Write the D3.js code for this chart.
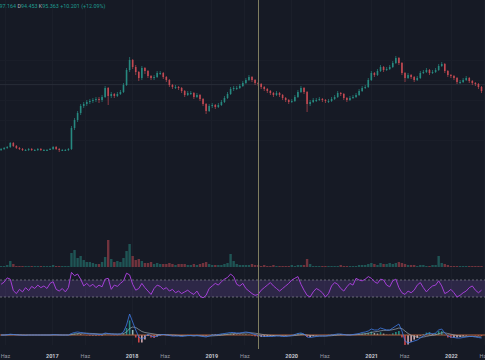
<!DOCTYPE html>
<html>
<head>
<meta charset="utf-8">
<script src="https://cdn.jsdelivr.net/npm/d3@7"></script>
<style>
  html, body { margin: 0; padding: 0; background: #161a25; overflow: hidden; }
  svg { display: block; }
</style>
</head>
<body>
<div id="chart"></div>
<script>
(function () {
  'use strict';

  // two-week candles, starting 2016-05-14
  var closes = [31,32,33,37,34,32,31,30,30,31, 30,30,31,30,30,30,31,33,31,30,
    30,30,31,52,60,67,74,76,78,79, 80,81,80,83,92,84,86,84,86,88,
    95,110,120,113,108,102,112,109,104,102, 103,107,107,103,100,95,93,93,92,89,
    85,87,87,83,85,81,76,69,74,75, 73,75,78,82,86,91,92,92,94,97,
    100,103,100,97,96,93,91,89,87,85, 87,85,82,80,78,79,83,88,92,88,
    76,78,80,80,81,80,79,79,81,83, 87,86,82,80,82,83,85,89,92,93,
    100,107,105,109,113,110,111,113,117,122, 117,107,102,105,103,100,102,107,108,110,
    107,108,110,114,116,109,105,104,102,98, 98,100,102,99,97,96,93,89];
  var highs = [32,33,34,38,38,35,33,32,31,32, 32,31,32,32,31,31,32,34,34,32,
    31,31,32,54,62,69,76,78,80,81, 82,83,83,85,94,93,88,87,88,90,
    97,112,123,121,115,109,114,113,110,105, 105,109,109,108,104,101,96,95,94,93,
    90,89,89,88,87,86,82,77,76,77, 76,77,80,84,88,93,94,94,96,99,
    102,105,104,101,98,97,94,92,90,88, 89,88,86,83,81,81,85,90,94,93,
    89,80,82,82,83,82,81,81,83,85, 89,88,87,83,84,85,87,91,94,95,
    102,109,108,111,115,114,113,115,119,124, 123,118,108,107,106,104,104,109,110,112,
    111,110,112,116,118,117,110,106,105,103, 100,102,104,103,100,98,97,94];
  var lows = [29,30,31,32,33,31,30,29,29,29, 29,29,29,29,29,29,30,30,30,28,
    29,29,29,30,50,58,65,72,74,76, 77,78,77,78,82,75,82,82,83,85,
    87,94,108,111,105,99,100,106,102,100, 100,102,105,101,98,93,91,91,90,87,
    83,84,85,81,82,79,74,66,68,72, 71,72,74,77,81,85,89,90,91,93,
    96,99,98,95,94,91,89,87,85,83, 84,83,80,78,76,77,78,82,87,86,
    68,74,77,78,79,78,77,77,78,80, 82,84,80,78,79,81,82,84,88,91,
    92,99,103,104,108,108,109,110,112,116, 115,105,98,101,101,98,99,101,106,107,
    105,106,107,109,113,107,103,102,100,96, 96,97,99,97,95,94,91,87];
  var firstOpen = 30;
  var volumes = [1,1,2,6,3,1,1,1,1,1, 1,1,1,1,1,1,1,2,1,1,
    1,1,1,14,17,9,11,7,5,5, 4,3,3,5,10,27,8,5,6,5,
    9,16,23,11,7,8,6,4,4,5, 3,4,3,3,3,4,3,2,3,3,
    3,2,2,3,2,3,4,5,3,2, 2,2,2,3,4,13,6,3,2,2,
    2,2,3,2,2,1,2,1,1,2, 1,1,1,1,1,2,1,2,2,2,
    8,3,1,1,1,1,1,1,1,1, 1,2,1,1,1,1,1,2,2,2,
    3,4,3,2,4,3,3,4,3,4, 5,4,3,2,2,2,1,2,2,1,
    1,2,2,11,4,3,2,1,1,1, 1,1,1,1,1,1,1,1];
  var rsi = [60,65,75,72,45,38,48,42,52,45, 55,50,58,52,56,50,62,66,48,44,
    50,42,52,88,80,84,72,56,62,55, 60,52,58,54,72,74,48,58,55,62,
    68,86,82,60,46,50,62,52,44,36, 50,58,55,48,52,44,48,40,44,38,
    42,46,40,36,44,32,28,34,50,56, 62,58,66,72,76,84,78,60,56,62,
    50,44,38,34,36,46,52,58,64,56, 50,44,50,56,62,70,74,78,60,46,
    34,30,42,50,46,40,30,38,56,64, 60,50,44,54,62,58,74,70,68,72,
    78,74,66,62,72,70,58,54,68,72, 52,40,36,44,40,46,58,64,52,42,
    50,56,58,68,56,38,42,48,40,30, 34,40,44,52,56,46,40,46];
  var macd = [0,0,0.3,0.8,0.5,0.2,0,-0.2,-0.2,0, 0,0,0,0,0,0,0,0.3,0.2,0,
    0,0,0,1.5,2.5,3,2.5,2,1.5,1, 1,0.8,0.5,0.5,2,1.5,1,0.8,0.8,1,
    3,10,21,13,5,-2,-4,-2,1,-1, -2,-1,0,0.5,0,-0.5,-1,-1,-1,-1.5,
    -1,-0.5,-0.5,-1,-0.5,-1,-1.5,-2,-1,0, 0,0.5,1,1.5,2,2.5,2.5,2,2,2.5,
    3,2.5,1.5,0.5,-0.5,-1,-1.5,-1.5,-1.5,-1.5, -1,-1,-1.5,-1.5,-1,-0.5,0.5,1.5,2,1,
    -2,-2.5,-2,-1.5,-1,-1,-1,-0.5,0,0.5, 1,1,0.5,0,0,0.5,1,1.5,2.5,3,
    4,6,5,5,7,6,5,5,7,9, 11,4,-6,-8,-7,-6,-5,-3,-1,1,
    2,1,2,5,6,2,-1,-2,-2.5,-3, -3,-2.5,-2,-1.5,-1.5,-2,-2.5,-3];
  var signal = [0,0,0.1,0.3,0.4,0.3,0.2,0.1,0,0, 0,0,0,0,0,0,0,0.1,0.1,0.1,
    0,0,0,0.4,0.9,1.4,1.7,1.8,1.8,1.6, 1.5,1.3,1.1,1,1.2,1.3,1.2,1.1,1,1,
    1.4,3,6.5,8,7.5,5.5,3.5,2.5,2,1.5, 1,0.5,0.5,0.5,0.3,0.2,0,-0.2,-0.4,-0.6,
    -0.7,-0.7,-0.6,-0.7,-0.7,-0.7,-0.9,-1.1,-1.1,-0.9, -0.7,-0.5,-0.2,0.2,0.6,1,1.3,1.5,1.6,1.8,
    2,2.2,2.1,1.8,1.3,0.8,0.3,0,-0.3,-0.5, -0.6,-0.7,-0.8,-0.9,-0.9,-0.8,-0.5,-0.1,0.3,0.5,
    0,-0.5,-0.8,-1,-1,-1,-1,-0.9,-0.7,-0.4, -0.1,0.1,0.2,0.2,0.1,0.2,0.3,0.6,0.9,1.3,
    1.8,2.6,3.1,3.5,4.2,4.6,4.7,4.8,5.3,6, 7,6.4,3.9,1.5,-0.2,-1.4,-2.1,-2.3,-2,-1.4,
    -0.7,-0.3,0.2,1.2,2.2,2.2,1.5,0.8,0.1,-0.5, -1,-1.3,-1.4,-1.4,-1.4,-1.5,-1.7,-2];

  var tickDates = ['2016-06-01', '2017-01-01', '2017-06-01', '2018-01-01', '2018-06-01', '2019-01-01',
    '2019-06-01', '2020-01-01', '2020-06-01', '2021-01-01', '2021-06-01', '2022-01-01', '2022-06-01'];
  var headerKeys = ['', ' D', ' K', ' '];
  var headerValues = ['97.164', '94.453', '95.363', '+10.201 (+12.09%)'];
  var crossIndex = 84;
  var crossPrice = 95.363;

  var width = 485;
  var height = 360;
  var upColor = '#2a9d90';
  var downColor = '#e0525a';
  var start = new Date(2016, 4, 14);

  var bars = closes.map(function (c, i) {
    return {
      date: d3.timeDay.offset(start, i * 14),
      open: i ? closes[i - 1] : firstOpen, // each candle opens at the previous close
      high: highs[i],
      low: lows[i],
      close: c,
      volume: volumes[i],
      rsi: rsi[i],
      macd: macd[i],
      signal: signal[i],
      hist: macd[i] - signal[i]
    };
  });

  var x = d3.scaleTime().domain([new Date(2016, 4, 9), new Date(2022, 5, 6)]).range([0, width]);
  var y = d3.scaleLinear().domain([30, 125]).range([150, 55]);
  var yVol = d3.scaleLinear().domain([0, 30]).range([267, 237]);
  var yRsi = d3.scaleLinear().domain([30, 70]).range([297, 280]);
  var yMacd = d3.scaleLinear().domain([-10, 35]).range([345, 300]);

  var svg = d3.select('#chart').append('svg').attr('width', width).attr('height', height)
    .style('font-family', 'Roboto, "Noto Sans", sans-serif');
  svg.append('rect').attr('width', width).attr('height', height).attr('fill', '#161a25');

  var defs = svg.append('defs');
  defs.append('clipPath').attr('id', 'clip-main').append('rect').attr('width', width).attr('height', 270);
  defs.append('clipPath').attr('id', 'clip-rsi').append('rect').attr('y', 270).attr('width', width).attr('height', 30);
  defs.append('clipPath').attr('id', 'clip-macd').append('rect').attr('y', 300).attr('width', width).attr('height', 45);

  // grid (very faint)
  var ticks = tickDates.map(function (d) { return d3.timeParse('%Y-%m-%d')(d); });
  svg.append('g').attr('stroke', '#1b1f2a').attr('stroke-width', 1).selectAll('line').data(ticks).join('line')
    .attr('x1', function (d) { return Math.round(x(d)) + 0.5; })
    .attr('x2', function (d) { return Math.round(x(d)) + 0.5; })
    .attr('y1', 0).attr('y2', 345);
  svg.append('g').attr('stroke', '#1a1e29').selectAll('line').data([40, 60, 80, 100, 120]).join('line')
    .attr('x1', 0).attr('x2', width)
    .attr('y1', function (d) { return Math.round(y(d)) + 0.5; })
    .attr('y2', function (d) { return Math.round(y(d)) + 0.5; });

  // volume
  var isUp = function (d) { return d.close >= d.open; };
  svg.append('g').attr('clip-path', 'url(#clip-main)').attr('fill-opacity', 0.45).selectAll('rect').data(bars).join('rect')
    .attr('x', function (d) { return x(d.date) - 1.2; })
    .attr('width', 2.4)
    .attr('y', function (d) { return yVol(d.volume); })
    .attr('height', function (d) { return yVol(0) - yVol(d.volume); })
    .attr('fill', function (d) { return isUp(d) ? upColor : downColor; });

  // crosshair horizontal
  svg.append('line').attr('x1', 0).attr('x2', width)
    .attr('y1', y(crossPrice)).attr('y2', y(crossPrice))
    .attr('stroke', '#292d38').attr('stroke-width', 1);

  // candles
  var candle = svg.append('g').attr('clip-path', 'url(#clip-main)').attr('opacity', 0.85)
    .selectAll('g').data(bars).join('g')
    .attr('fill', function (d) { return isUp(d) ? upColor : downColor; })
    .attr('stroke', function (d) { return isUp(d) ? upColor : downColor; });
  candle.append('line')
    .attr('x1', function (d) { return x(d.date); })
    .attr('x2', function (d) { return x(d.date); })
    .attr('y1', function (d) { return y(d.high); })
    .attr('y2', function (d) { return y(d.low); })
    .attr('stroke-width', 0.7);
  candle.append('rect')
    .attr('stroke', 'none')
    .attr('x', function (d) { return x(d.date) - 0.8; })
    .attr('width', 1.6)
    .attr('y', function (d) { return y(Math.max(d.open, d.close)); })
    .attr('height', function (d) { return Math.max(1, Math.abs(y(d.open) - y(d.close))); });

  // RSI
  var rsiG = svg.append('g').attr('clip-path', 'url(#clip-rsi)');
  rsiG.append('rect').attr('x', 0).attr('width', width)
    .attr('y', yRsi(70)).attr('height', yRsi(30) - yRsi(70))
    .attr('fill', '#7e57c2').attr('fill-opacity', 0.22);
  rsiG.selectAll('line.band').data([70, 30]).join('line').attr('class', 'band')
    .attr('x1', 0).attr('x2', width)
    .attr('y1', function (d) { return yRsi(d); }).attr('y2', function (d) { return yRsi(d); })
    .attr('stroke', '#787b86').attr('stroke-width', 0.8).attr('stroke-dasharray', '2,2');
  rsiG.append('path').datum(bars)
    .attr('fill', 'none').attr('stroke', '#a43fd6').attr('stroke-width', 1)
    .attr('d', d3.line().x(function (d) { return x(d.date); }).y(function (d) { return yRsi(d.rsi); }));

  // MACD
  var macdG = svg.append('g').attr('clip-path', 'url(#clip-macd)');
  macdG.append('g').attr('fill-opacity', 0.8).selectAll('rect').data(bars).join('rect')
    .attr('x', function (d) { return x(d.date) - 0.8; })
    .attr('width', 1.6)
    .attr('y', function (d) { return Math.min(yMacd(d.hist), yMacd(0)); })
    .attr('height', function (d) { return Math.abs(yMacd(d.hist) - yMacd(0)); })
    .attr('fill', function (d, i) {
      var prev = i ? bars[i - 1].hist : 0;
      if (d.hist >= 0) return d.hist >= prev ? '#26a69a' : '#b2dfdb';
      return d.hist < prev ? '#ff5252' : '#ffcdd2';
    });
  macdG.append('line').attr('x1', 0).attr('x2', width).attr('y1', yMacd(0)).attr('y2', yMacd(0))
    .attr('stroke', '#b0603f').attr('stroke-width', 1);
  macdG.append('path').datum(bars)
    .attr('fill', 'none').attr('stroke', '#9aa6b0').attr('stroke-width', 0.7)
    .attr('d', d3.line().x(function (d) { return x(d.date); }).y(function (d) { return yMacd(d.signal); }));
  macdG.append('path').datum(bars)
    .attr('fill', 'none').attr('stroke', '#3f7be6').attr('stroke-width', 0.8)
    .attr('d', d3.line().x(function (d) { return x(d.date); }).y(function (d) { return yMacd(d.macd); }));

  // crosshair vertical
  var cx = Math.round(x(bars[crossIndex].date)) + 0.5;
  svg.append('line').attr('x1', cx).attr('x2', cx).attr('y1', 0).attr('y2', 349)
    .attr('stroke', '#7f7d60').attr('stroke-width', 1);

  // x axis
  var axis = svg.append('g').attr('transform', 'translate(0,351)')
    .call(d3.axisBottom(x).tickValues(ticks).tickSize(0).tickFormat(function (d) {
      return d.getMonth() === 0 ? d.getFullYear() : 'Haz';
    }));
  axis.select('.domain').remove();
  axis.selectAll('text')
    .attr('fill', function (d) { return d.getMonth() === 0 ? '#c3c6ce' : '#9598a1'; })
    .attr('font-weight', function (d) { return d.getMonth() === 0 ? 'bold' : 'normal'; })
    .attr('font-size', 5.5)
    .attr('font-family', 'Roboto, "Noto Sans", sans-serif');

  // header values at the crosshair
  var header = svg.append('text').attr('x', -0.5).attr('y', 8).attr('font-size', 5.4);
  headerValues.forEach(function (v, i) {
    header.append('tspan').attr('fill', '#b2b5be').text(headerKeys[i]);
    header.append('tspan').attr('fill', '#1e9c8f').text(v);
  });
})();
</script>
</body>
</html>
